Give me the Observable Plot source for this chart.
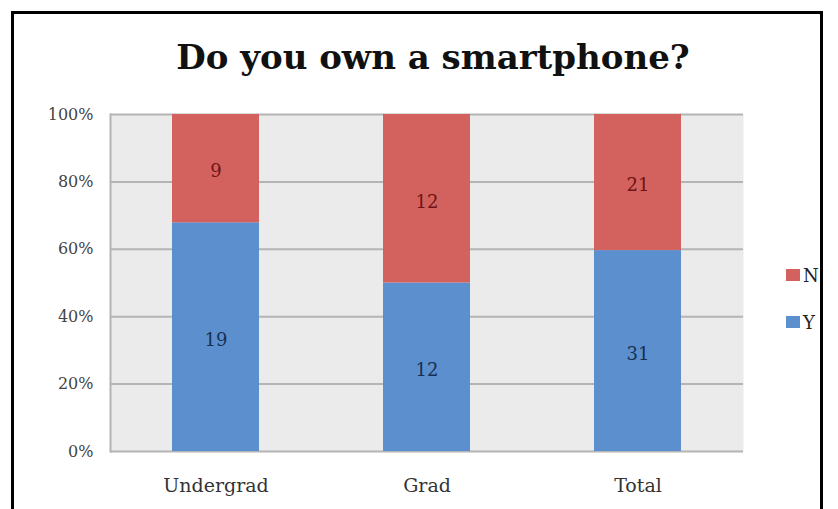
<!DOCTYPE html>
<html>
<head>
<meta charset="utf-8">
<script src="https://cdn.jsdelivr.net/npm/d3@7"></script>
<script src="https://cdn.jsdelivr.net/npm/@observablehq/plot@0.6"></script>
<style>
  html, body { margin: 0; padding: 0; background: #fff; }
  #wrap { position: relative; width: 838px; height: 509px; overflow: hidden; font-family: "DejaVu Serif", serif; }
  #border { position: absolute; left: 11px; top: 11px; width: 812px; height: 520px; border: 3px solid #000; box-sizing: border-box; }
  #title { position: absolute; left: 0; width: 866px; top: 40px; text-align: center; font-weight: bold; font-size: 34px; color: #111; line-height: 1; }
  #chart { position: absolute; left: 0; top: 0; }
  #legend { position: absolute; left: 786px; top: 266px; font-size: 18px; color: #222; }
  .item { display: flex; align-items: center; height: 18px; margin-bottom: 29px; }
  .sw { width: 14px; height: 12px; margin-right: 3px; }
</style>
</head>
<body>
<div id="wrap">
  <div id="border"></div>
  <div id="chart"></div>
  <div id="title">Do you own a smartphone?</div>
  <div id="legend"></div>
</div>
<script>
const title = "Do you own a smartphone?";
const categories = ["Undergrad", "Grad", "Total"];
const yesValues = [19, 12, 31];
const noValues = [9, 12, 21];
const seriesNames = ["Y", "N"];
const seriesColors = ["#5b8fcd", "#d3625f"];
const labelColors = ["#172f52", "#6e1414"];
const yTicks = [0, 0.2, 0.4, 0.6, 0.8, 1];

const data = [];
categories.forEach((c, i) => {
  data.push({cat: c, series: "Y", value: yesValues[i]});
  data.push({cat: c, series: "N", value: noValues[i]});
});

const chart = Plot.plot({
  width: 838,
  height: 509,
  marginLeft: 110,
  marginRight: 95,
  marginTop: 114,
  marginBottom: 58,
  style: {fontFamily: "DejaVu Serif, serif", fontSize: "17px", color: "#444", background: "transparent"},
  x: {domain: categories, paddingInner: 0.59, paddingOuter: 0.295, label: null},
  y: {domain: [0, 1], label: null},
  color: {domain: seriesNames, range: seriesColors},
  marks: [
    Plot.frame({fill: "#ebebeb", stroke: null}),
    Plot.ruleY(yTicks, {stroke: "#b4b4b4", strokeWidth: 2}),
    Plot.frame({anchor: "left", stroke: "#b4b4b4", strokeWidth: 2}),
    Plot.barY(data, Plot.stackY({offset: "normalize", x: "cat", y: "value", fill: "series", order: seriesNames})),
    Plot.text(data, Plot.stackY({offset: "normalize", x: "cat", y: "value", z: "series", order: seriesNames, text: d => String(d.value), fill: d => labelColors[seriesNames.indexOf(d.series)], fontSize: 18, dy: 3})),
    Plot.axisX({tickSize: 0, tickPadding: 27, fontSize: 19, fill: "#333"}),
    Plot.axisY({ticks: yTicks, tickFormat: d3.format(".0%"), tickSize: 0, tickPadding: 17, fontSize: 16, fill: "#444"})
  ]
});
document.getElementById("chart").appendChild(chart);

const legend = document.getElementById("legend");
["N", "Y"].forEach(s => {
  const item = document.createElement("div");
  item.className = "item";
  const sw = document.createElement("span");
  sw.className = "sw";
  sw.style.background = seriesColors[seriesNames.indexOf(s)];
  const t = document.createElement("span");
  t.textContent = s;
  item.appendChild(sw); item.appendChild(t);
  legend.appendChild(item);
});
</script>
</body>
</html>
